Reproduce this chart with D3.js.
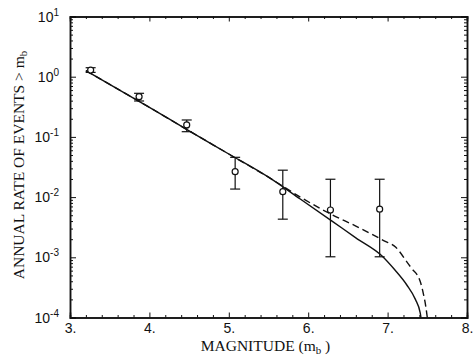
<!DOCTYPE html>
<html>
<head>
<meta charset="utf-8">
<script src="https://cdn.jsdelivr.net/npm/d3@7"></script>
<style>
  body { margin: 0; background: #fff; }
  svg { display: block; }
  .tick text { font-family: "Liberation Sans", Arial, sans-serif; }
</style>
</head>
<body>
<div id="chart"></div>
<script>
// observed rates with error bars
const magnitudes = [3.26, 3.87, 4.47, 5.08, 5.68, 6.28, 6.90];
const rates = [1.29, 0.466, 0.158, 0.0264, 0.0123, 0.0061, 0.0063];
const ratesUpper = [1.41, 0.53, 0.191, 0.0458, 0.028, 0.0198, 0.0198];
const ratesLower = [1.18, 0.395, 0.122, 0.0136, 0.0043, 0.00102, 0.00102];

// fitted curves (solid and dashed)
const solidMag = [3.2, 4.0, 4.5, 5.0, 5.5, 5.9, 6.3, 6.6, 6.93, 7.09, 7.24, 7.35, 7.41, 7.42];
const solidRate = [1.26, 0.31, 0.126, 0.052, 0.0214, 0.0093, 0.0040, 0.0021, 0.00105, 0.00062, 0.00035, 0.0002, 0.00012, 0.0001];
const dashedMag = [3.2, 4.0, 4.5, 5.0, 5.5, 5.9, 6.3, 6.6, 6.95, 7.1, 7.24, 7.3, 7.41, 7.45, 7.48, 7.5];
const dashedRate = [1.26, 0.31, 0.126, 0.052, 0.0214, 0.010, 0.0051, 0.0033, 0.0019, 0.00148, 0.00085, 0.00066, 0.0004, 0.00025, 0.000155, 0.0001];

const xTicks = [3, 4, 5, 6, 7, 8];
const yTicks = [1e-4, 1e-3, 1e-2, 1e-1, 1e0, 1e1];
const yExponents = ["-4", "-3", "-2", "-1", "0", "1"];

const X_LABEL = "MAGNITUDE (m";
const Y_LABEL = "ANNUAL RATE OF EVENTS > m";

const W = 475, H = 356;
const margin = { left: 70, right: 8, top: 16.5, bottom: 38.5 };
const width = W - margin.left - margin.right;
const height = H - margin.top - margin.bottom;

const svg = d3.select("#chart")
    .append("svg")
    .attr("width", W)
    .attr("height", H)
    .append("g")
    .attr("transform", `translate(${margin.left}, ${margin.top})`);

const x = d3.scaleLinear().domain([3, 8]).range([0, width]);
const y = d3.scaleLog().domain([1e-4, 1e1]).range([height, 0]);

// minor ticks
const xMinor = d3.range(3, 8.001, 0.2).filter(v => Math.abs(v - Math.round(v)) > 1e-6);
const yMinor = [];
for (let e = -4; e < 1; e++) {
    for (let k = 2; k <= 9; k++) yMinor.push(k * Math.pow(10, e));
}

function drawAxes() {
    // bottom
    svg.append("g")
        .attr("transform", `translate(0,${height})`)
        .call(d3.axisBottom(x).tickValues(xTicks).tickSize(-5).tickPadding(6)
            .tickFormat(d => d + "."));
    svg.append("g")
        .attr("transform", `translate(0,${height})`)
        .call(d3.axisBottom(x).tickValues(xMinor).tickSize(-2.5).tickFormat(""));
    // top
    svg.append("g")
        .call(d3.axisTop(x).tickValues(xTicks).tickSize(-5).tickFormat(""));
    svg.append("g")
        .call(d3.axisTop(x).tickValues(xMinor).tickSize(-2.5).tickFormat(""));
    // left
    svg.append("g")
        .call(d3.axisLeft(y).tickValues(yTicks).tickSize(-6).tickFormat(""));
    svg.append("g")
        .call(d3.axisLeft(y).tickValues(yMinor).tickSize(-3).tickFormat(""));
    // right
    svg.append("g")
        .attr("transform", `translate(${width},0)`)
        .call(d3.axisRight(y).tickValues(yTicks).tickSize(-6).tickFormat(""));
    svg.append("g")
        .attr("transform", `translate(${width},0)`)
        .call(d3.axisRight(y).tickValues(yMinor).tickSize(-3).tickFormat(""));

    svg.selectAll(".domain").attr("stroke", "#111").attr("stroke-width", 1.5);
    svg.selectAll(".tick line").attr("stroke", "#111").attr("stroke-width", 1);
    svg.selectAll(".tick text").attr("font-size", 14).attr("fill", "#111");

    // y tick labels as 10 with superscript exponent
    const labels = svg.append("g")
        .attr("font-family", "Liberation Sans, Arial, sans-serif")
        .attr("fill", "#111");
    yTicks.forEach((v, i) => {
        const t = labels.append("text")
            .attr("x", -11)
            .attr("y", y(v) + 5)
            .attr("text-anchor", "end")
            .attr("font-size", 14);
        t.append("tspan").text("10");
        t.append("tspan").attr("dy", -6).attr("font-size", 10).text(yExponents[i]);
    });

    // axis titles
    const xl = svg.append("text")
        .attr("x", width / 2 - 3)
        .attr("y", height + 33)
        .attr("text-anchor", "middle")
        .attr("font-family", "Liberation Serif, Times New Roman, serif")
        .attr("font-size", 15.5)
        .attr("fill", "#111");
    xl.append("tspan").text(X_LABEL);
    xl.append("tspan").attr("dy", 3).attr("font-size", 11).text("b");
    xl.append("tspan").attr("dy", -3).text(" )");

    const yl = svg.append("text")
        .attr("transform", "rotate(-90)")
        .attr("x", -height / 2 + 2)
        .attr("y", -margin.left + 24)
        .attr("text-anchor", "middle")
        .attr("font-family", "Liberation Serif, Times New Roman, serif")
        .attr("font-size", 15.5)
        .attr("fill", "#111");
    yl.append("tspan").text(Y_LABEL);
    yl.append("tspan").attr("dy", 3).attr("font-size", 11).text("b");
}

function plotCurve(mags, values, dash) {
    const pts = mags.map((m, i) => ({ m: m, v: values[i] }));
    svg.append("path")
        .datum(pts)
        .attr("d", d3.line()
            .curve(d3.curveMonotoneX)
            .x(d => x(d.m))
            .y(d => y(d.v)))
        .attr("fill", "none")
        .attr("stroke", "#111")
        .attr("stroke-width", 1.4)
        .attr("stroke-dasharray", dash);
}

function plotErrorBars() {
    const data = magnitudes.map((m, i) => ({
        m: m, v: rates[i], hi: ratesUpper[i], lo: ratesLower[i]
    }));
    const g = svg.append("g").attr("stroke", "#111").attr("stroke-width", 1.2);

    g.selectAll(".ebar").data(data).enter()
        .append("line").attr("class", "ebar")
        .attr("x1", d => x(d.m)).attr("x2", d => x(d.m))
        .attr("y1", d => y(d.hi)).attr("y2", d => y(d.lo));

    ["hi", "lo"].forEach(key => {
        g.selectAll(`.cap-${key}`).data(data).enter()
            .append("line").attr("class", `cap-${key}`)
            .attr("x1", d => x(d.m) - 5).attr("x2", d => x(d.m) + 5)
            .attr("y1", d => y(d[key])).attr("y2", d => y(d[key]));
    });

    g.selectAll(".dot").data(data).enter()
        .append("circle").attr("class", "dot")
        .attr("cx", d => x(d.m))
        .attr("cy", d => y(d.v))
        .attr("r", 3)
        .attr("fill", "#fff");
}

drawAxes();
plotCurve(solidMag, solidRate, null);
plotCurve(dashedMag, dashedRate, "7,4");
plotErrorBars();
</script>
</body>
</html>
